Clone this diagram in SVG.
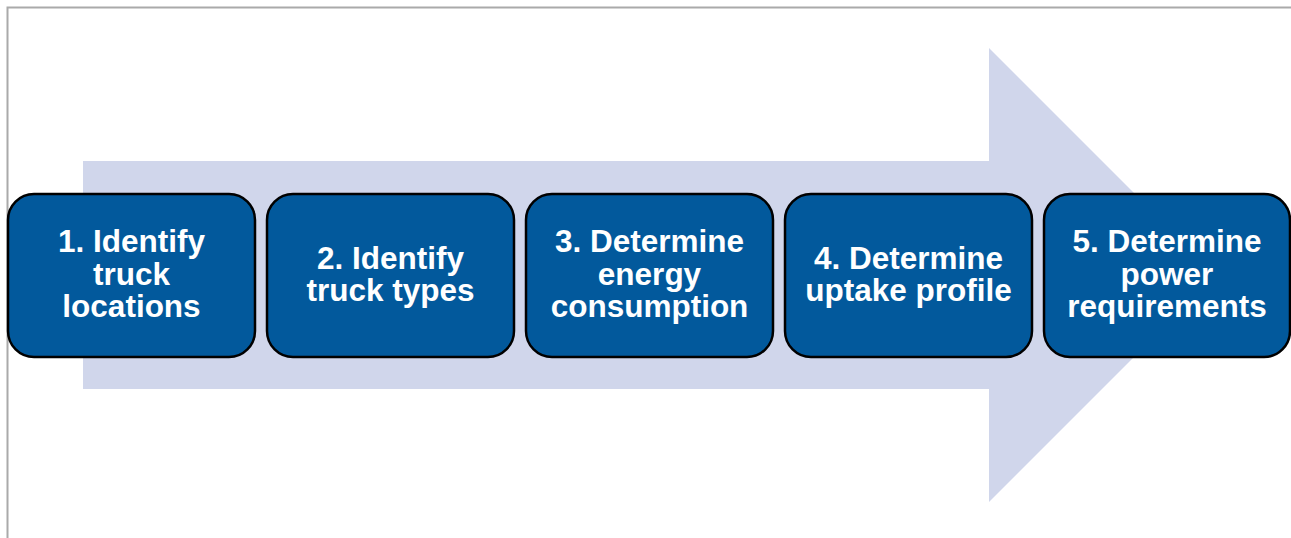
<svg xmlns="http://www.w3.org/2000/svg" width="1291" height="538" viewBox="0 0 1291 538">
<style>
.box{fill:#02599C;stroke:#000;stroke-width:2.5}
.t{font-family:"Liberation Sans",Arial,sans-serif;font-weight:bold;font-size:31.5px;fill:#fff;text-anchor:middle}
</style>
<rect x="0" y="0" width="1291" height="538" fill="#fff"/>
<path d="M7.5 538 V7.5 H1291" fill="none" stroke="#aaa" stroke-width="2"/>
<g id="arrow">
<path d="M83 161 H989 V48 L1216 275 L989 502 V389 H83 Z" fill="#D0D6EB"/>
</g>
<g id="connectors"></g>
<g id="n1"><rect class="box" x="8" y="194" width="247" height="163" rx="26"/>
<text class="t" x="131.5" y="252">1. Identify</text><text class="t" x="131.5" y="284.5">truck</text><text class="t" x="131.5" y="317">locations</text></g>
<g id="n2"><rect class="box" x="267" y="194" width="247" height="163" rx="26"/>
<text class="t" x="390.5" y="268.5">2. Identify</text><text class="t" x="390.5" y="301">truck types</text></g>
<g id="n3"><rect class="box" x="526" y="194" width="247" height="163" rx="26"/>
<text class="t" x="649.5" y="252">3. Determine</text><text class="t" x="649.5" y="284.5">energy</text><text class="t" x="649.5" y="317">consumption</text></g>
<g id="n4"><rect class="box" x="785" y="194" width="247" height="163" rx="26"/>
<text class="t" x="908.5" y="268.5">4. Determine</text><text class="t" x="908.5" y="301">uptake profile</text></g>
<g id="n5"><rect class="box" x="1044" y="194" width="246" height="163" rx="26"/>
<text class="t" x="1167" y="252">5. Determine</text><text class="t" x="1167" y="284.5">power</text><text class="t" x="1167" y="317">requirements</text></g>
</svg>
